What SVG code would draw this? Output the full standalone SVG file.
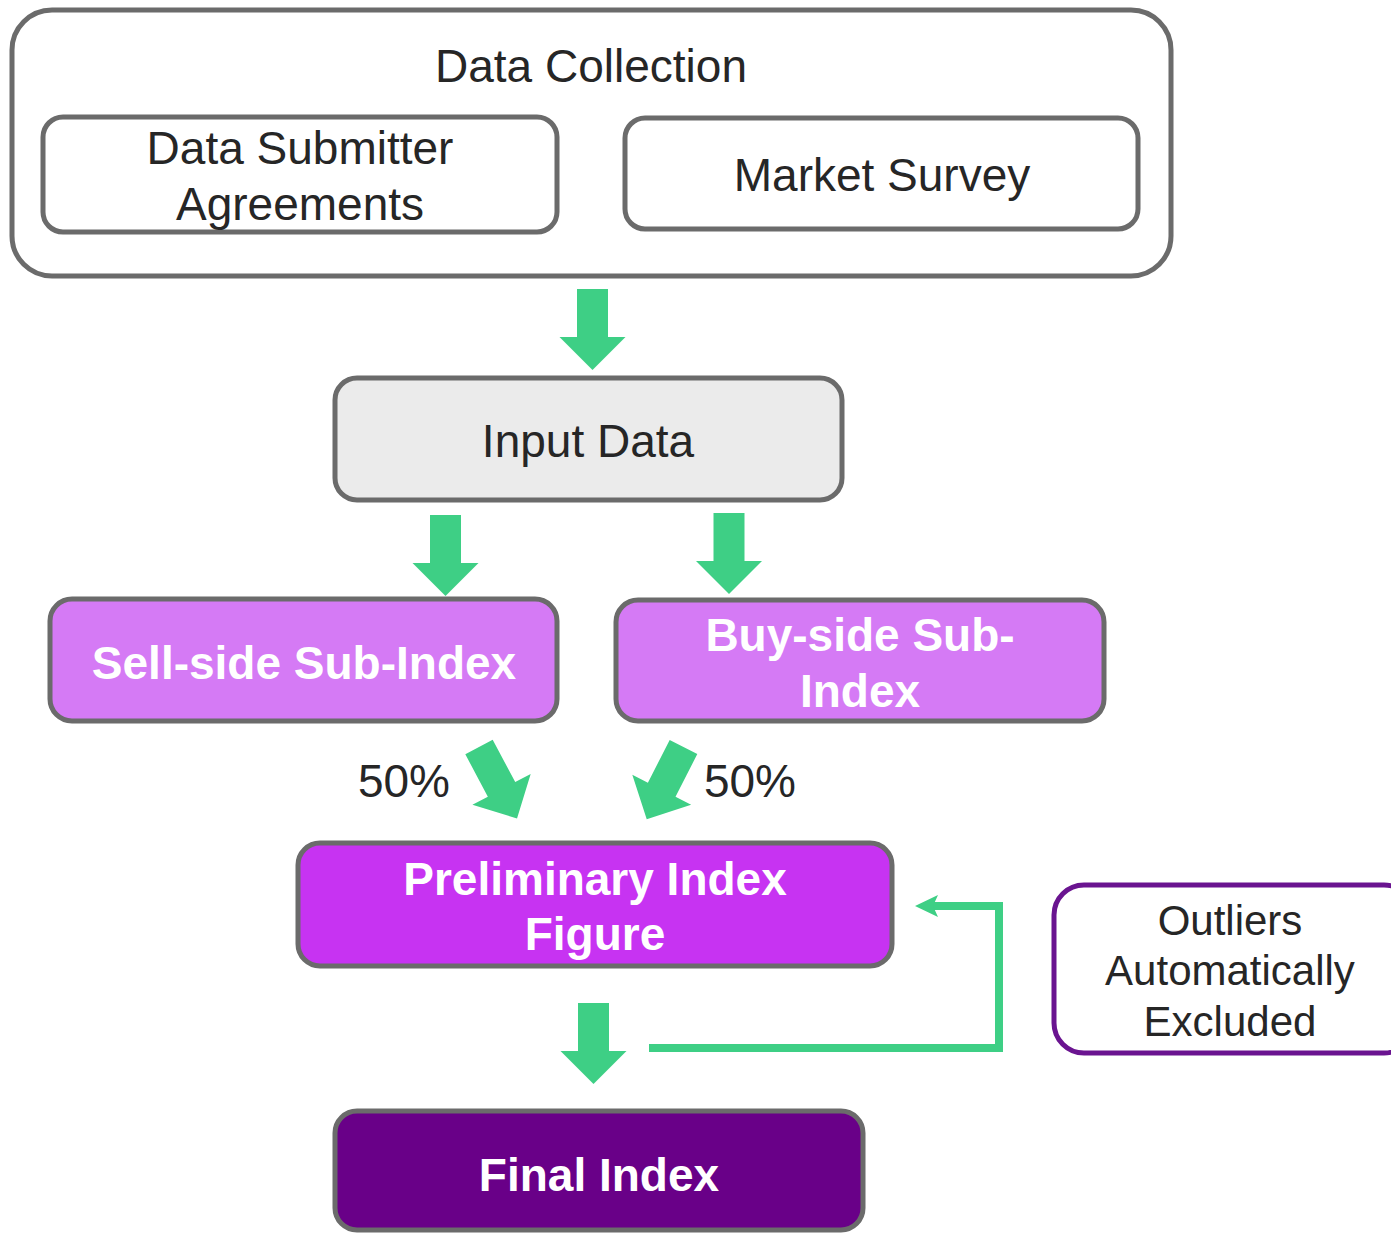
<svg xmlns="http://www.w3.org/2000/svg" width="1391" height="1233" viewBox="0 0 1391 1233">
<defs>
<style>
.box{stroke:#6b6b6b;stroke-width:5}
.t{font-family:"Liberation Sans",Arial,sans-serif;font-size:46px;fill:#262626;text-anchor:middle}
.w{font-family:"Liberation Sans",Arial,sans-serif;font-size:46px;font-weight:bold;fill:#ffffff;text-anchor:middle}
.o{font-family:"Liberation Sans",Arial,sans-serif;font-size:42px;fill:#262626;text-anchor:middle}
.arr{fill:#3ecf85}
</style>
<path id="dn" d="M-15.5,0 H15.5 V48 H33 L0,81 L-33,48 H-15.5 Z"/>
</defs>
<rect width="1391" height="1233" fill="#ffffff"/>

<g id="data-collection">
<rect class="box" x="12" y="10" width="1159" height="266" rx="40" fill="#ffffff"/>
<text class="t" x="591" y="82">Data Collection</text>
</g>
<g id="data-submitter">
<rect class="box" x="43" y="117" width="514" height="115" rx="20" fill="#ffffff"/>
<text class="t" x="300" y="164">Data Submitter</text>
<text class="t" x="300" y="220">Agreements</text>
</g>
<g id="market-survey">
<rect class="box" x="625" y="118" width="513" height="111" rx="20" fill="#ffffff"/>
<text class="t" x="882" y="191">Market Survey</text>
</g>
<g id="input-data">
<rect class="box" x="335" y="378" width="507" height="122" rx="22" fill="#ebebeb"/>
<text class="t" x="588" y="457">Input Data</text>
</g>
<g id="sell-side">
<rect class="box" x="50" y="599" width="507" height="122" rx="22" fill="#d57af5"/>
<text class="w" x="304" y="679">Sell-side Sub-Index</text>
</g>
<g id="buy-side">
<rect class="box" x="616" y="600" width="488" height="121" rx="22" fill="#d57af5"/>
<text class="w" x="860" y="651">Buy-side Sub-</text>
<text class="w" x="860" y="707">Index</text>
</g>
<g id="preliminary">
<rect class="box" x="298" y="843" width="594" height="123" rx="22" fill="#c733f2"/>
<text class="w" x="595" y="895">Preliminary Index</text>
<text class="w" x="595" y="950">Figure</text>
</g>
<g id="outliers">
<rect x="1054" y="885" width="360" height="168" rx="30" fill="#ffffff" stroke="#6a1490" stroke-width="5"/>
<text class="o" x="1230" y="935">Outliers</text>
<text class="o" x="1230" y="985">Automatically</text>
<text class="o" x="1230" y="1036">Excluded</text>
</g>
<g id="final-index">
<rect class="box" x="335" y="1111" width="528" height="119" rx="22" fill="#690088"/>
<text class="w" x="599" y="1191">Final Index</text>
</g>

<g id="connectors">
<use href="#dn" class="arr" transform="translate(592.5,289)"/>
<use href="#dn" class="arr" transform="translate(445.5,515)"/>
<use href="#dn" class="arr" transform="translate(729,513)"/>
<use href="#dn" class="arr" transform="translate(593.5,1003)"/>
<use href="#dn" class="arr" transform="translate(479,747) rotate(-28) scale(1,1)"/>
<use href="#dn" class="arr" transform="translate(683.5,747) rotate(27)"/>
<polyline points="649,1048 999,1048 999,906 932,906" fill="none" stroke="#3ecf85" stroke-width="8"/>
<polygon points="915,906 938,895 933,906 938,917" fill="#3ecf85"/>
<text class="t" x="404" y="797">50%</text>
<text class="t" x="750" y="797">50%</text>
</g>
</svg>
